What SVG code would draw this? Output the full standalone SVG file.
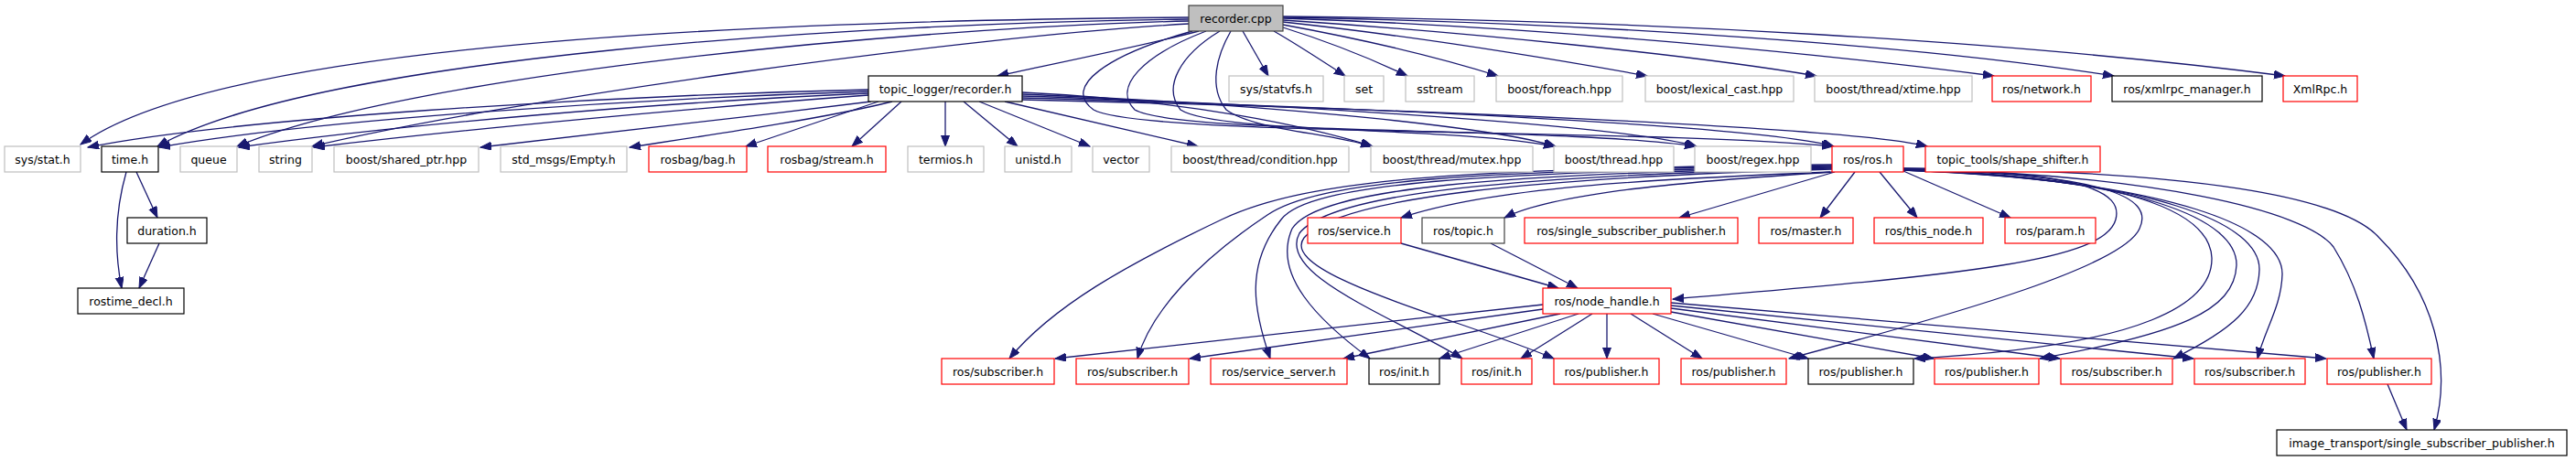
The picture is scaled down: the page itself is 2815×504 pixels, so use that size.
<svg xmlns="http://www.w3.org/2000/svg" width="2815" height="504" viewBox="0 0 2815 504">
<style>
rect{fill:#fff;stroke-width:1.2}
.g{stroke:#bfbfbf}.r{stroke:#ff0000}.k{stroke:#000}.d{stroke:#404040}
.root{fill:#bfbfbf;stroke:#404040}
text{font-family:"DejaVu Sans",sans-serif;font-size:12.5px;text-anchor:middle;fill:#000}
#edges path{fill:none;stroke:#191970;stroke-width:1.3;marker-end:url(#a)}
</style>
<defs><marker id="a" markerUnits="userSpaceOnUse" markerWidth="13" markerHeight="10" refX="12" refY="4.5" orient="auto"><path d="M0,0L12,4.5L0,9z" fill="#191970" stroke="#191970"/></marker></defs>
<rect x="0" y="0" width="2815" height="504" style="fill:#fff;stroke:none"/>
<g id="edges">
<path d="M1310,34C1250,50 1150,70 1090,83"/>
<path d="M1358,34L1386,83"/>
<path d="M1392,34C1420,50 1450,70 1470,83"/>
<path d="M1402,30C1450,45 1500,65 1538,83"/>
<path d="M1402,27C1500,45 1580,65 1637,83"/>
<path d="M1402,24C1550,40 1700,65 1800,83"/>
<path d="M1402,22C1600,35 1850,60 1985,83"/>
<path d="M1402,20C1700,30 2000,60 2179,83"/>
<path d="M1402,19C1750,25 2100,50 2310,83"/>
<path d="M1402,18C1800,22 2200,45 2497,83"/>
<path d="M1299,19C900,22 250,40 88,158"/>
<path d="M1299,21C950,25 350,60 172,160"/>
<path d="M1299,23C1000,30 450,80 259,160"/>
<path d="M1299,26C1050,40 550,110 341,160"/>
<path d="M1303,34C1210,60 1160,95 1195,120C1250,150 1800,140 2003,160"/>
<path d="M1318,34C1250,60 1215,95 1240,120C1290,148 1700,138 1853,160"/>
<path d="M1333,34C1290,60 1270,95 1290,120C1330,146 1580,138 1699,160"/>
<path d="M1345,34C1330,60 1320,95 1340,120C1370,142 1450,145 1499,160"/>
<path d="M949,98C650,105 250,130 96,161"/>
<path d="M949,100C700,108 350,130 174,161"/>
<path d="M949,102C720,112 450,135 261,161"/>
<path d="M949,104C760,118 520,140 343,161"/>
<path d="M952,111C800,130 620,150 525,161"/>
<path d="M975,111C900,130 760,150 688,161"/>
<path d="M960,111L815,160"/>
<path d="M985,111L931,160"/>
<path d="M1033,111L1033,160"/>
<path d="M1053,111L1112,160"/>
<path d="M1070,111L1191,160"/>
<path d="M1098,111L1309,160"/>
<path d="M1117,101C1300,110 1430,138 1500,160"/>
<path d="M1117,103C1350,112 1620,136 1700,160"/>
<path d="M1117,105C1400,114 1770,136 1854,160"/>
<path d="M1117,107C1450,116 1920,136 2004,160"/>
<path d="M1117,109C1500,118 2020,138 2106,160"/>
<path d="M149,188L172,238"/>
<path d="M138,188C126,230 124,270 133,315"/>
<path d="M174,266L152,315"/>
<path d="M2000,188C1800,196 1630,205 1531,238"/>
<path d="M2003,188C1850,198 1700,210 1644,238"/>
<path d="M2005,188L1835,238"/>
<path d="M2027,188L1989,238"/>
<path d="M2054,188L2095,238"/>
<path d="M2080,187L2197,238"/>
<path d="M2080,184C2280,188 2320,210 2312,240C2300,285 2150,300 1828,327"/>
<path d="M2002,180C1600,184 1430,195 1335,240C1230,290 1150,335 1103,392"/>
<path d="M2002,181C1600,186 1440,198 1385,235C1310,285 1258,340 1243,392"/>
<path d="M2002,182C1620,188 1430,200 1400,240C1360,290 1370,340 1388,392"/>
<path d="M2002,183C1640,190 1440,205 1412,250C1390,300 1440,350 1497,392"/>
<path d="M2002,184C1660,192 1455,210 1420,255C1395,300 1520,345 1598,392"/>
<path d="M2002,185C1680,194 1465,215 1425,260C1395,300 1600,350 1698,392"/>
<path d="M2080,185C2300,190 2355,215 2338,250C2320,290 2150,340 1955,392"/>
<path d="M2080,186C2320,192 2415,230 2417,282C2418,330 2350,378 2092,392"/>
<path d="M2080,186C2340,194 2445,240 2444,290C2442,340 2380,365 2229,392"/>
<path d="M2080,186C2360,196 2470,245 2469,295C2468,335 2440,360 2375,392"/>
<path d="M2080,186C2380,198 2495,250 2494,300C2493,335 2475,360 2467,392"/>
<path d="M2080,185C2350,190 2520,230 2550,270C2575,310 2585,350 2594,392"/>
<path d="M2080,184C2400,186 2560,215 2600,260C2660,320 2680,400 2660,470"/>
<path d="M2609,420L2630,470"/>
<path d="M1531,266L1703,315"/>
<path d="M1629,266L1724,315"/>
<path d="M1686,333L1153,392"/>
<path d="M1686,338L1300,392"/>
<path d="M1705,343L1468,392"/>
<path d="M1725,343L1573,392"/>
<path d="M1740,343L1662,392"/>
<path d="M1756,343L1756,392"/>
<path d="M1782,343L1860,392"/>
<path d="M1806,343L1976,392"/>
<path d="M1826,341L2113,392"/>
<path d="M1826,337L2251,392"/>
<path d="M1826,334L2397,392"/>
<path d="M1826,331L2542,392"/>
</g>
<g id="n_recorder_cpp"><rect class="root" x="1299" y="6" width="103" height="28"/><text x="1350.5" y="24.5">recorder.cpp</text></g>
<g id="n_recorder_h"><rect class="k" x="949" y="83" width="168" height="28"/><text x="1033" y="101.5">topic_logger/recorder.h</text></g>
<g id="n_statvfs"><rect class="g" x="1343" y="83" width="103" height="28"/><text x="1394.5" y="101.5">sys/statvfs.h</text></g>
<g id="n_set"><rect class="g" x="1469" y="83" width="43" height="28"/><text x="1490.5" y="101.5">set</text></g>
<g id="n_sstream"><rect class="g" x="1536" y="83" width="75" height="28"/><text x="1573.5" y="101.5">sstream</text></g>
<g id="n_foreach"><rect class="g" x="1635" y="83" width="138" height="28"/><text x="1704" y="101.5">boost/foreach.hpp</text></g>
<g id="n_lexical"><rect class="g" x="1798" y="83" width="162" height="28"/><text x="1879" y="101.5">boost/lexical_cast.hpp</text></g>
<g id="n_xtime"><rect class="g" x="1983" y="83" width="172" height="28"/><text x="2069" y="101.5">boost/thread/xtime.hpp</text></g>
<g id="n_network"><rect class="r" x="2177" y="83" width="108" height="28"/><text x="2231" y="101.5">ros/network.h</text></g>
<g id="n_xmlrpc_mgr"><rect class="k" x="2308" y="83" width="164" height="28"/><text x="2390" y="101.5">ros/xmlrpc_manager.h</text></g>
<g id="n_xmlrpc"><rect class="r" x="2495" y="83" width="81" height="28"/><text x="2535.5" y="101.5">XmlRpc.h</text></g>
<g id="n_stat"><rect class="g" x="5" y="160" width="83" height="28"/><text x="46.5" y="178.5">sys/stat.h</text></g>
<g id="n_time"><rect class="k" x="111" y="160" width="62" height="28"/><text x="142" y="178.5">time.h</text></g>
<g id="n_queue"><rect class="g" x="197" y="160" width="62" height="28"/><text x="228" y="178.5">queue</text></g>
<g id="n_string"><rect class="g" x="283" y="160" width="58" height="28"/><text x="312" y="178.5">string</text></g>
<g id="n_shared_ptr"><rect class="g" x="365" y="160" width="158" height="28"/><text x="444" y="178.5">boost/shared_ptr.hpp</text></g>
<g id="n_empty"><rect class="g" x="547" y="160" width="138" height="28"/><text x="616" y="178.5">std_msgs/Empty.h</text></g>
<g id="n_bag"><rect class="r" x="709" y="160" width="107" height="28"/><text x="762.5" y="178.5">rosbag/bag.h</text></g>
<g id="n_stream"><rect class="r" x="839" y="160" width="129" height="28"/><text x="903.5" y="178.5">rosbag/stream.h</text></g>
<g id="n_termios"><rect class="g" x="992" y="160" width="83" height="28"/><text x="1033.5" y="178.5">termios.h</text></g>
<g id="n_unistd"><rect class="g" x="1098" y="160" width="73" height="28"/><text x="1134.5" y="178.5">unistd.h</text></g>
<g id="n_vector"><rect class="g" x="1194" y="160" width="62" height="28"/><text x="1225" y="178.5">vector</text></g>
<g id="n_condition"><rect class="g" x="1280" y="160" width="194" height="28"/><text x="1377" y="178.5">boost/thread/condition.hpp</text></g>
<g id="n_mutex"><rect class="g" x="1498" y="160" width="177" height="28"/><text x="1586.5" y="178.5">boost/thread/mutex.hpp</text></g>
<g id="n_thread"><rect class="g" x="1698" y="160" width="131" height="28"/><text x="1763.5" y="178.5">boost/thread.hpp</text></g>
<g id="n_regex"><rect class="g" x="1852" y="160" width="127" height="28"/><text x="1915.5" y="178.5">boost/regex.hpp</text></g>
<g id="n_ros"><rect class="r" x="2002" y="160" width="78" height="28"/><text x="2041" y="178.5">ros/ros.h</text></g>
<g id="n_shape_shifter"><rect class="r" x="2104" y="160" width="191" height="28"/><text x="2199.5" y="178.5">topic_tools/shape_shifter.h</text></g>
<g id="n_duration"><rect class="k" x="139" y="238" width="87" height="28"/><text x="182.5" y="256.5">duration.h</text></g>
<g id="n_service"><rect class="r" x="1429" y="238" width="102" height="28"/><text x="1480" y="256.5">ros/service.h</text></g>
<g id="n_topic"><rect class="d" x="1554" y="238" width="90" height="28"/><text x="1599" y="256.5">ros/topic.h</text></g>
<g id="n_ssp"><rect class="r" x="1666" y="238" width="233" height="28"/><text x="1782.5" y="256.5">ros/single_subscriber_publisher.h</text></g>
<g id="n_master"><rect class="r" x="1922" y="238" width="103" height="28"/><text x="1973.5" y="256.5">ros/master.h</text></g>
<g id="n_this_node"><rect class="r" x="2048" y="238" width="119" height="28"/><text x="2107.5" y="256.5">ros/this_node.h</text></g>
<g id="n_param"><rect class="r" x="2191" y="238" width="99" height="28"/><text x="2240.5" y="256.5">ros/param.h</text></g>
<g id="n_rostime_decl"><rect class="k" x="85" y="315" width="116" height="28"/><text x="143" y="333.5">rostime_decl.h</text></g>
<g id="n_node_handle"><rect class="r" x="1686" y="315" width="140" height="28"/><text x="1756" y="333.5">ros/node_handle.h</text></g>
<g id="n_sub1"><rect class="r" x="1029" y="392" width="123" height="28"/><text x="1090.5" y="410.5">ros/subscriber.h</text></g>
<g id="n_sub2"><rect class="r" x="1176" y="392" width="123" height="28"/><text x="1237.5" y="410.5">ros/subscriber.h</text></g>
<g id="n_service_server"><rect class="r" x="1323" y="392" width="149" height="28"/><text x="1397.5" y="410.5">ros/service_server.h</text></g>
<g id="n_init1"><rect class="k" x="1496" y="392" width="77" height="28"/><text x="1534.5" y="410.5">ros/init.h</text></g>
<g id="n_init2"><rect class="r" x="1597" y="392" width="77" height="28"/><text x="1635.5" y="410.5">ros/init.h</text></g>
<g id="n_pub1"><rect class="r" x="1698" y="392" width="115" height="28"/><text x="1755.5" y="410.5">ros/publisher.h</text></g>
<g id="n_pub2"><rect class="r" x="1837" y="392" width="115" height="28"/><text x="1894.5" y="410.5">ros/publisher.h</text></g>
<g id="n_pub3"><rect class="k" x="1976" y="392" width="115" height="28"/><text x="2033.5" y="410.5">ros/publisher.h</text></g>
<g id="n_pub4"><rect class="r" x="2114" y="392" width="114" height="28"/><text x="2171" y="410.5">ros/publisher.h</text></g>
<g id="n_sub3"><rect class="r" x="2252" y="392" width="122" height="28"/><text x="2313" y="410.5">ros/subscriber.h</text></g>
<g id="n_sub4"><rect class="r" x="2398" y="392" width="121" height="28"/><text x="2458.5" y="410.5">ros/subscriber.h</text></g>
<g id="n_pub5"><rect class="r" x="2543" y="392" width="114" height="28"/><text x="2600" y="410.5">ros/publisher.h</text></g>
<g id="n_image_transport"><rect class="k" x="2488" y="470" width="317" height="28"/><text x="2646.5" y="488.5">image_transport/single_subscriber_publisher.h</text></g>
</svg>
